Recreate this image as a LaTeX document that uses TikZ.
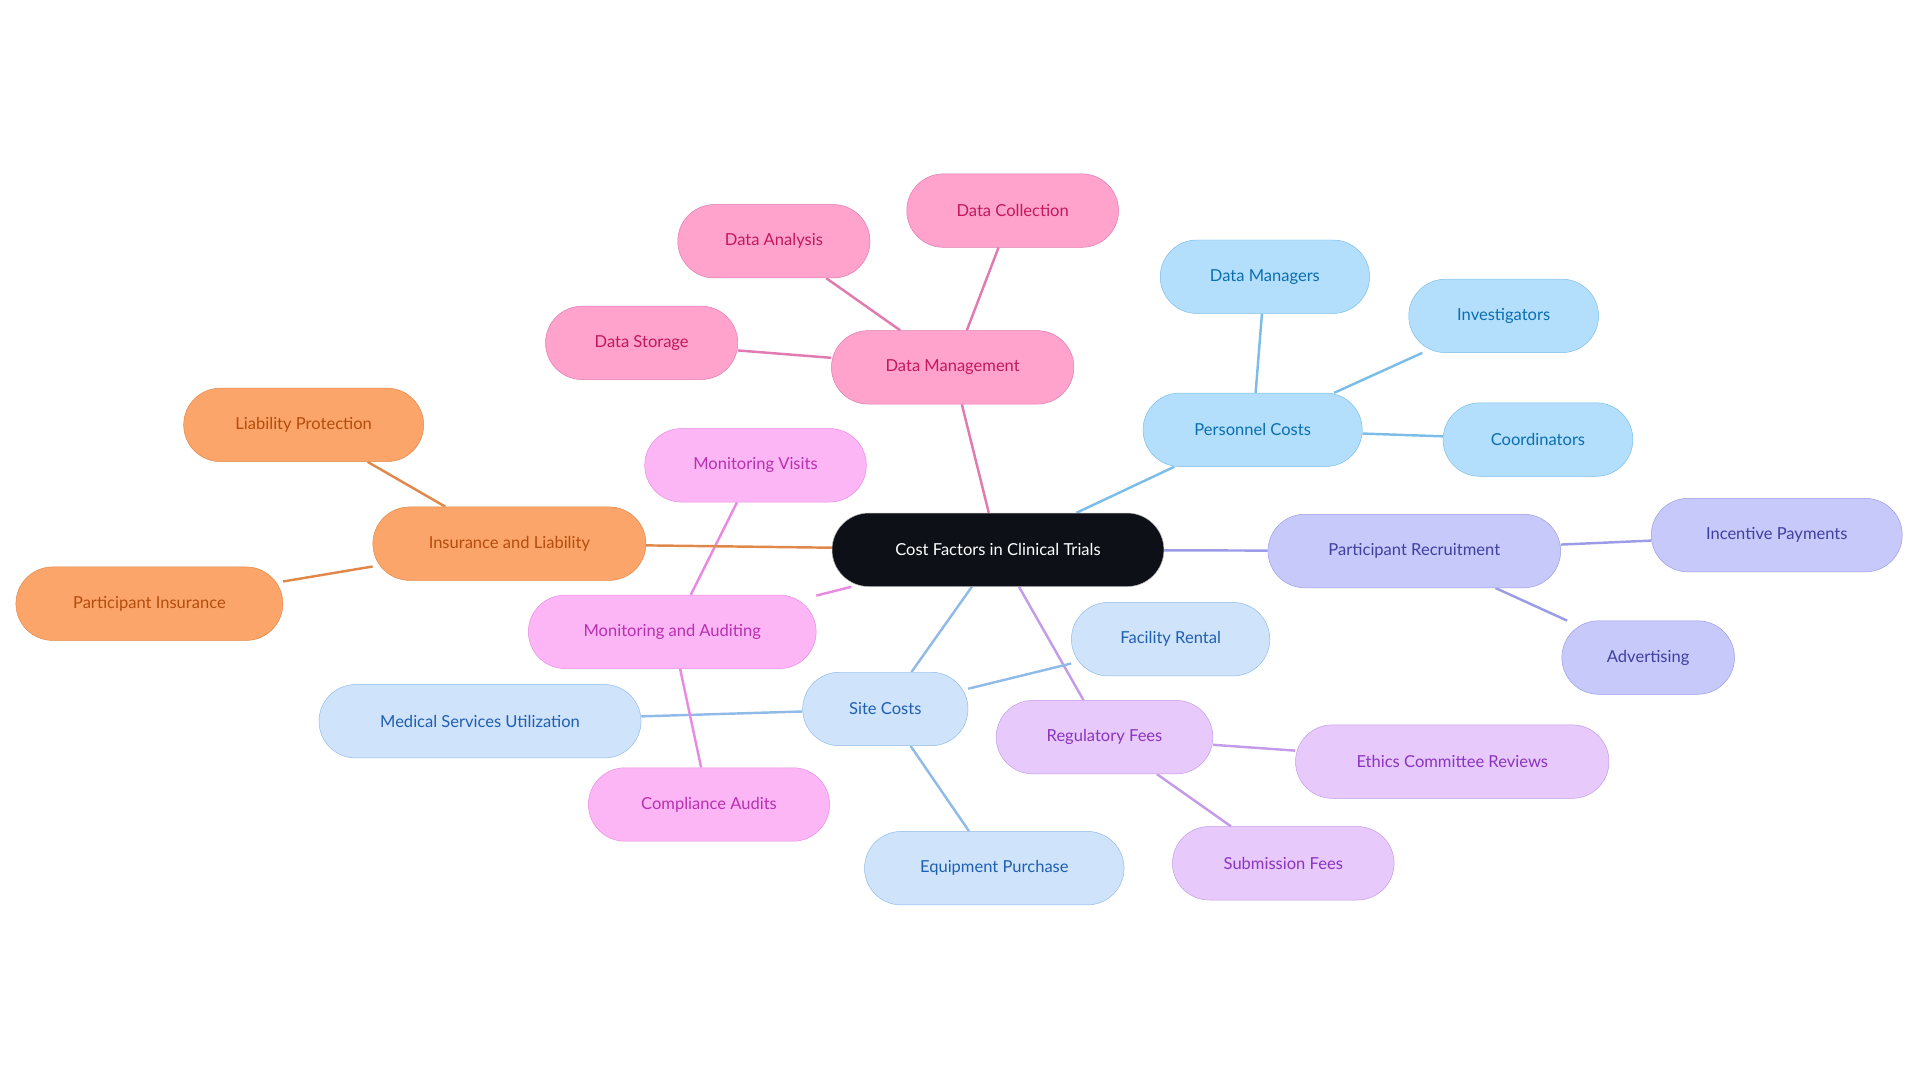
\documentclass[tikz,border=0pt]{standalone}
\usepackage{fontspec}
\setmainfont{Lato}
\usetikzlibrary{backgrounds}
\definecolor{rootfill}{HTML}{0D1117}
\definecolor{pinkfill}{HTML}{FFA3CC}\definecolor{pinktext}{HTML}{C2185B}\definecolor{pinkline}{HTML}{E07AB0}
\definecolor{skyfill}{HTML}{B3DFFC}\definecolor{skytext}{HTML}{0A6EB0}\definecolor{skyline}{HTML}{7BBDE8}
\definecolor{indfill}{HTML}{C7C9FB}\definecolor{indtext}{HTML}{3F3FA0}\definecolor{indline}{HTML}{9B9BE8}
\definecolor{purfill}{HTML}{E7C9FB}\definecolor{purtext}{HTML}{8A34C0}\definecolor{purline}{HTML}{C49BE8}
\definecolor{sitefill}{HTML}{CFE3FB}\definecolor{sitetext}{HTML}{1F5FB0}\definecolor{siteline}{HTML}{90BBE8}
\definecolor{magfill}{HTML}{FDB6F5}\definecolor{magtext}{HTML}{B82FB0}\definecolor{magline}{HTML}{E88AE0}
\definecolor{orafill}{HTML}{FCA56A}\definecolor{oratext}{HTML}{B34C0C}\definecolor{oraline}{HTML}{E0884A}
\tikzset{
  topic/.style={rounded corners=30pt, minimum height=60pt, inner sep=0pt, font=\fontsize{13.5}{16}\selectfont},
  root/.style={topic, fill=rootfill, draw=gray!60, text=white},
  pinkbox/.style={topic, fill=pinkfill, draw=pinkline, text=pinktext},
  skybox/.style={topic, fill=skyfill, draw=skyline, text=skytext},
  indbox/.style={topic, fill=indfill, draw=indline, text=indtext},
  purbox/.style={topic, fill=purfill, draw=purline, text=purtext},
  sitebox/.style={topic, fill=sitefill, draw=siteline, text=sitetext},
  magbox/.style={topic, fill=magfill, draw=magline, text=magtext},
  orabox/.style={topic, fill=orafill, draw=oraline, text=oratext},
  link/.style={line width=2pt}
}
\begin{document}
\begin{tikzpicture}[x=1pt, y=-1pt]
  \useasboundingbox (0,0) rectangle (1568,885);
  \node (root) [root, minimum width=271pt] at (815,449) {Cost Factors in Clinical Trials};

  \node (dataMgmt) [pinkbox, minimum width=198pt] at (778,300) {Data Management};
  \node (dataColl) [pinkbox, minimum width=173pt] at (827,172) {Data Collection};
  \node (dataAnal) [pinkbox, minimum width=157pt] at (632,197) {Data Analysis};
  \node (dataStor) [pinkbox, minimum width=157pt] at (524,280) {Data Storage};

  \node (personnel) [skybox, minimum width=179pt] at (1023,351) {Personnel Costs};
  \node (dataMgrs) [skybox, minimum width=171pt] at (1033,226) {Data Managers};
  \node (investig) [skybox, minimum width=155pt] at (1228,258) {Investigators};
  \node (coord) [skybox, minimum width=155pt] at (1256,359) {Coordinators};

  \node (recruit) [indbox, minimum width=239pt] at (1155,450) {Participant Recruitment};
  \node (incentive) [indbox, minimum width=205pt] at (1451,437) {Incentive Payments};
  \node (advert) [indbox, minimum width=141pt] at (1346,537) {Advertising};

  \node (regFees) [purbox, minimum width=177pt] at (902,602) {Regulatory Fees};
  \node (ethics) [purbox, minimum width=256pt] at (1186,622) {Ethics Committee Reviews};
  \node (submit) [purbox, minimum width=181pt] at (1048,705) {Submission Fees};

  \node (site) [sitebox, minimum width=135pt] at (723,579) {Site Costs};
  \node (facility) [sitebox, minimum width=162pt] at (956,522) {Facility Rental};
  \node (medical) [sitebox, minimum width=263pt] at (392,589) {Medical Services Utilization};
  \node (equip) [sitebox, minimum width=212pt] at (812,709) {Equipment Purchase};

  \node (monitor) [magbox, minimum width=235pt] at (549,516) {Monitoring and Auditing};
  \node (visits) [magbox, minimum width=181pt] at (617,380) {Monitoring Visits};
  \node (audits) [magbox, minimum width=197pt] at (579,657) {Compliance Audits};

  \node (insur) [orabox, minimum width=223pt] at (416,444) {Insurance and Liability};
  \node (liab) [orabox, minimum width=196pt] at (248,347) {Liability Protection};
  \node (partIns) [orabox, minimum width=218pt] at (122,493) {Participant Insurance};

  \begin{scope}[on background layer]
    \draw [link, pinkline] (root) -- (dataMgmt) (dataMgmt) -- (dataColl) (dataMgmt) -- (dataAnal) (dataMgmt) -- (dataStor);
    \draw [link, skyline] (root) -- (personnel) (personnel) -- (dataMgrs) (personnel) -- (investig) (personnel) -- (coord);
    \draw [link, indline] (root) -- (recruit) (recruit) -- (incentive) (recruit) -- (advert);
    \draw [link, purline] (root) -- (regFees) (regFees) -- (ethics) (regFees) -- (submit);
    \draw [link, siteline] (root) -- (site) (site) -- (facility) (site) -- (medical) (site) -- (equip);
    \draw [link, magline] (root) -- (monitor) (monitor) -- (visits) (monitor) -- (audits);
    \draw [link, oraline] (root) -- (insur) (insur) -- (liab) (insur) -- (partIns);
  \end{scope}
\end{tikzpicture}
\end{document}
